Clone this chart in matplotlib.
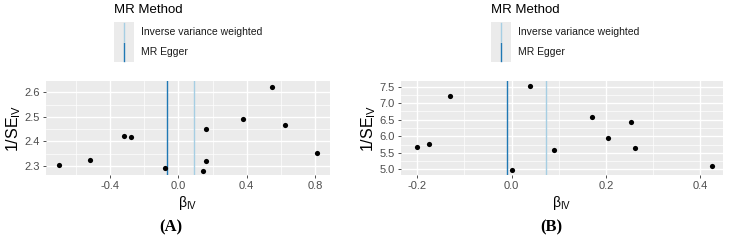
import matplotlib
matplotlib.use('Agg')
import matplotlib.pyplot as plt
from matplotlib.patches import Rectangle
from matplotlib.lines import Line2D

plt.rcParams['font.family'] = ['Liberation Sans', 'DejaVu Sans']
plt.rcParams['mathtext.default'] = 'regular'

# panel A data
beta_a = [-0.697, -0.517, -0.316, -0.279, -0.080, 0.144, 0.160, 0.160, 0.380, 0.550, 0.624, 0.812]
invse_a = [2.303, 2.324, 2.423, 2.416, 2.291, 2.277, 2.320, 2.451, 2.491, 2.622, 2.465, 2.353]
ivw_a = 0.094
egger_a = -0.064

# panel B data
beta_b = [-0.200, -0.175, -0.130, 0.001, 0.039, 0.089, 0.170, 0.205, 0.252, 0.261, 0.425]
invse_b = [5.675, 5.776, 7.208, 4.98, 7.53, 5.585, 6.593, 5.948, 6.44, 5.655, 5.11]
ivw_b = 0.0734
egger_b = -0.0099

methods = ['Inverse variance weighted', 'MR Egger']
colors = ['#a6cee3', '#1f78b4']

W, H = 731, 241
fig = plt.figure(figsize=(W / 100, H / 100), dpi=100)


def px(x0, y0, x1, y1):
    # pixel box (top-left origin) -> figure fraction
    return [x0 / W, 1 - y1 / H, (x1 - x0) / W, (y1 - y0) / H]


def panel(box, bx, sy, ivw, egger, xlim, ylim, xt, yt, xminor, yminor, fmt):
    ax = fig.add_axes(px(*box))
    ax.set_facecolor('#EBEBEB')
    for s in ax.spines.values():
        s.set_visible(False)
    ax.set_xticks(xt)
    ax.set_yticks(yt)
    ax.set_xticks(xminor, minor=True)
    ax.set_yticks(yminor, minor=True)
    ax.set_xticklabels([fmt(v) for v in xt])
    ax.set_yticklabels(['%.1f' % v for v in yt])
    ax.grid(True, which='major', color='white', lw=1.0)
    ax.grid(True, which='minor', color='white', lw=0.5)
    ax.set_axisbelow(True)
    ax.tick_params(which='major', length=2.5, width=0.6, color='#333333',
                   labelsize=8, labelcolor='#4D4D4D', pad=2)
    ax.tick_params(which='minor', length=0)
    ax.axvline(ivw, color=colors[0], lw=1.0)
    ax.axvline(egger, color=colors[1], lw=1.0)
    ax.scatter(bx, sy, s=14, color='black', zorder=3, linewidths=0)
    ax.set_xlim(xlim)
    ax.set_ylim(ylim)
    ax.set_xlabel(r'β$_{IV}$', fontsize=10, labelpad=2)
    ax.set_ylabel(r'1/SE$_{IV}$', fontsize=11.5, labelpad=1)
    return ax


def legend(x0):
    fig.text(x0 / W, 1 - 10 / H, 'MR Method', fontsize=9.5, va='center', ha='left')
    for i, (m, c) in enumerate(zip(methods, colors)):
        y0 = 22 + 20 * i
        fig.patches.append(Rectangle((x0 / W, 1 - (y0 + 20) / H), 20 / W, 20 / H,
                                     transform=fig.transFigure, color='#EBEBEB', lw=0))
        fig.lines.append(Line2D([(x0 + 10) / W] * 2, [1 - (y0 + 19) / H, 1 - (y0 + 1) / H],
                                transform=fig.transFigure, color=c, lw=1.0))
        fig.text((x0 + 27) / W, 1 - (y0 + 10) / H, m, fontsize=7.5, va='center', ha='left',
                 color='#1a1a1a')


fmt_a = lambda v: '%.1f' % v
panel((46, 81, 330, 175), beta_a, invse_a, ivw_a, egger_a,
      (-0.774, 0.887), (2.262, 2.647),
      [-0.4, 0.0, 0.4, 0.8], [2.3, 2.4, 2.5, 2.6],
      [-0.6, -0.2, 0.2, 0.6], [2.35, 2.45, 2.55], fmt_a)
panel((401, 81, 723, 175), beta_b, invse_b, ivw_b, egger_b,
      (-0.2345, 0.448), (4.83, 7.67),
      [-0.2, 0.0, 0.2, 0.4], [5.0, 5.5, 6.0, 6.5, 7.0, 7.5],
      [-0.1, 0.1, 0.3], [5.25, 5.75, 6.25, 6.75, 7.25], fmt_a)

legend(114)
legend(491)

fig.text(171 / W, 1 - 227 / H, '(A)', fontsize=12, fontweight='bold',
         family='Liberation Serif', ha='center', va='center')
fig.text(551 / W, 1 - 227 / H, '(B)', fontsize=12, fontweight='bold',
         family='Liberation Serif', ha='center', va='center')

fig.savefig('out.png', dpi=100)
